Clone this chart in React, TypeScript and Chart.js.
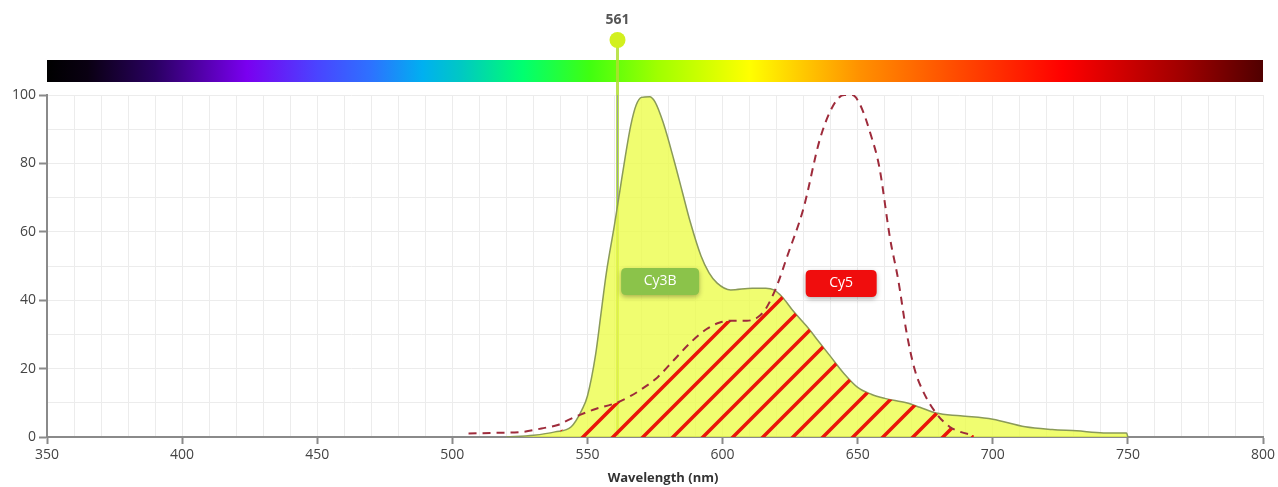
import { useEffect, useRef } from 'react';
import { Chart, registerables } from 'chart.js';

Chart.register(...registerables);

// ---------- data ----------
const cy3bWavelengths = [520, 530, 538, 544, 548, 550, 553, 555, 557, 560, 562, 564, 566, 568, 570, 573, 575, 578, 582, 585, 588, 592, 595, 598, 603, 611, 616, 619, 622, 626, 631, 636, 640, 645, 650, 655, 660, 668, 673, 679, 688, 700, 712, 722, 731, 741, 749.5, 750];
const cy3bValues = [0, 0.5, 1.5, 3, 8, 12, 24, 36, 48, 62, 72, 82, 91, 97, 99.3, 99.5, 98, 92, 81, 72, 63, 53, 48, 45, 43, 43.5, 43.5, 43, 41, 37, 32.5, 27.5, 23.5, 18.5, 14.5, 12.5, 11.3, 10, 8.7, 7, 6.2, 5.2, 3, 2.2, 1.8, 1.2, 1.2, 0];

const cy5Wavelengths = [506, 515, 526, 533, 539, 543, 547, 553, 560, 566, 571, 576, 582, 588, 594, 599, 604, 609, 613, 616, 620, 624, 630, 636, 641, 645, 648, 651, 655, 658, 662, 665, 668, 671, 674, 679, 684, 688, 693];
const cy5Values = [1, 1.2, 1.5, 2.5, 3.5, 5, 6.4, 8.2, 9.8, 12, 14.5, 17.5, 22.5, 27.5, 31.5, 33.5, 34, 34, 35, 37.5, 44, 53, 67, 87, 97, 100, 100, 97, 88, 79, 58, 46, 31, 20, 13.7, 7, 3, 1.5, 0.5];

// spectral overlap (hatched area)
const overlapWavelengths = [540, 544, 547, 553, 560, 566, 571, 576, 582, 588, 594, 599, 604, 609, 613, 616, 619, 620, 622, 626, 631, 636, 640, 645, 650, 655, 660, 668, 671, 674, 677, 679, 684, 688, 693];
const overlapValues = [2, 3, 6.4, 8.2, 9.8, 12, 14.5, 17.5, 22.5, 27.5, 31.5, 33.5, 34, 34, 35, 37.5, 42, 42.5, 41, 37, 32.5, 27.5, 23.5, 18.5, 14.5, 12.5, 11.3, 10, 9.3, 8.5, 7.5, 7, 3, 1.5, 0.5];

const xMin = 350;
const xMax = 800;
const yMin = 0;
const yMax = 100;
const xLabelStep = 50;
const yLabelStep = 20;
const laserLine = 561;
const xTitle = 'Wavelength (nm)';

const spectrumWavelengths = [350, 365, 390, 424, 450, 470, 489, 503, 526, 551, 576, 610, 630, 651, 684, 726, 770, 800];
const spectrumColors = ['#000000', '#0a0012', '#2a0062', '#7a00f0', '#4a44ff', '#2d72ff', '#00b0f0', '#00c8c4', '#00ff70', '#40ff10', '#a0ff00', '#ffff00', '#ffc800', '#ff9000', '#ff5000', '#ff0000', '#a00000', '#500000'];

const dyeNames = ['Cy3B', 'Cy5'];
const dyeLabelX = [576.9, 643.9];
const dyeLabelY = [45.5, 44.9];
const dyeColors = ['#8bc34a', '#f00d0d'];

function makeHatch(): CanvasPattern | string {
  const s = 30;
  const c = document.createElement('canvas');
  c.width = s;
  c.height = s;
  const g = c.getContext('2d');
  if (!g) return '#ea140a';
  g.strokeStyle = '#ea140a';
  g.lineWidth = 3.5;
  g.beginPath();
  g.moveTo(0, s);
  g.lineTo(s, 0);
  g.moveTo(-3, 3);
  g.lineTo(3, -3);
  g.moveTo(s - 3, s + 3);
  g.lineTo(s + 3, s - 3);
  g.stroke();
  const p = g.createPattern(c, 'repeat');
  return p || '#ea140a';
}

function roundRect(ctx: CanvasRenderingContext2D, x: number, y: number, w: number, h: number, r: number) {
  ctx.beginPath();
  ctx.moveTo(x + r, y);
  ctx.lineTo(x + w - r, y);
  ctx.quadraticCurveTo(x + w, y, x + w, y + r);
  ctx.lineTo(x + w, y + h - r);
  ctx.quadraticCurveTo(x + w, y + h, x + w - r, y + h);
  ctx.lineTo(x + r, y + h);
  ctx.quadraticCurveTo(x, y + h, x, y + h - r);
  ctx.lineTo(x, y + r);
  ctx.quadraticCurveTo(x, y, x + r, y);
  ctx.closePath();
}

const decorPlugin = {
  id: 'decor',
  beforeDatasetsDraw(chart: any) {
    const { ctx, chartArea, scales } = chart;
    const xs = scales.x;
    const left = xs.getPixelForValue(xMin);
    const right = xs.getPixelForValue(xMax);
    ctx.save();
    // spectrum bar
    const grad = ctx.createLinearGradient(left, 0, right, 0);
    spectrumWavelengths.forEach((w, i) => grad.addColorStop((w - xMin) / (xMax - xMin), spectrumColors[i]));
    ctx.fillStyle = grad;
    ctx.fillRect(left, chartArea.top - 35, right - left, 22);
    // laser line
    const lx = Math.round(xs.getPixelForValue(laserLine)) + 0.5;
    ctx.strokeStyle = 'rgba(176,222,50,0.85)';
    ctx.lineWidth = 3;
    ctx.beginPath();
    ctx.moveTo(lx, chartArea.top - 55);
    ctx.lineTo(lx, chartArea.bottom);
    ctx.stroke();
    ctx.strokeStyle = '#a0a0a0';
    ctx.lineWidth = 1;
    ctx.beginPath();
    ctx.moveTo(lx, chartArea.top);
    ctx.lineTo(lx, chartArea.bottom);
    ctx.stroke();
    // marker circle
    ctx.fillStyle = '#d2f01e';
    ctx.beginPath();
    ctx.arc(lx, chartArea.top - 55, 8, 0, Math.PI * 2);
    ctx.fill();
    // label
    ctx.fillStyle = '#555555';
    ctx.font = 'bold 14px "Open Sans", sans-serif';
    ctx.textAlign = 'center';
    ctx.textBaseline = 'middle';
    ctx.fillText(String(laserLine), lx, chartArea.top - 75);
    ctx.restore();
  },
  afterDatasetsDraw(chart: any) {
    const { ctx, scales } = chart;
    ctx.save();
    ctx.font = '14px "Open Sans", sans-serif';
    ctx.textAlign = 'center';
    ctx.textBaseline = 'middle';
    dyeNames.forEach((name, i) => {
      const cx = scales.x.getPixelForValue(dyeLabelX[i]);
      const cy = scales.y.getPixelForValue(dyeLabelY[i]);
      const w = i === 0 ? 78 : 71;
      const h = 27;
      ctx.save();
      ctx.shadowColor = 'rgba(0,0,0,0.3)';
      ctx.shadowBlur = 5;
      ctx.shadowOffsetY = 2;
      ctx.fillStyle = dyeColors[i];
      roundRect(ctx, cx - w / 2, cy - h / 2, w, h, 5);
      ctx.fill();
      ctx.restore();
      ctx.fillStyle = '#ffffff';
      ctx.fillText(name, cx, cy);
    });
    ctx.restore();
  },
  afterDraw(chart: any) {
    const { ctx, chartArea } = chart;
    ctx.save();
    ctx.font = 'bold 13px "Open Sans", sans-serif';
    ctx.fillStyle = '#333333';
    ctx.textAlign = 'center';
    ctx.textBaseline = 'middle';
    ctx.fillText(xTitle, (chartArea.left + chartArea.right) / 2 + 8, chartArea.bottom + 41);
    ctx.restore();
  },
};

export default function App() {
  const canvasRef = useRef<HTMLCanvasElement>(null);

  useEffect(() => {
    if (!canvasRef.current) return;
    const toPts = (xs: number[], ys: number[]) => xs.map((x, i) => ({ x, y: ys[i] }));
    const chart = new Chart(canvasRef.current, {
      type: 'line',
      data: {
        datasets: [
          {
            label: 'Cy5',
            data: toPts(cy5Wavelengths, cy5Values),
            borderColor: '#9e2b3b',
            borderWidth: 2,
            borderDash: [8, 6],
            fill: false,
            pointRadius: 0,
            cubicInterpolationMode: 'monotone',
          },
          {
            label: 'Overlap',
            data: toPts(overlapWavelengths, overlapValues),
            borderWidth: 0,
            borderColor: 'rgba(0,0,0,0)',
            backgroundColor: makeHatch() as any,
            fill: 'origin',
            pointRadius: 0,
            cubicInterpolationMode: 'monotone',
          },
          {
            label: 'Cy3B',
            data: toPts(cy3bWavelengths, cy3bValues),
            borderColor: '#8a9a58',
            borderWidth: 1.5,
            backgroundColor: 'rgba(236,252,72,0.78)',
            fill: 'origin',
            pointRadius: 0,
            cubicInterpolationMode: 'monotone',
          },
        ],
      },
      options: {
        animation: false,
        responsive: true,
        maintainAspectRatio: false,
        layout: { padding: { top: 95, right: 15, left: 0, bottom: 0 } },
        plugins: { legend: { display: false }, tooltip: { enabled: false } },
        scales: {
          x: {
            type: 'linear',
            min: xMin,
            max: xMax,
            afterFit: (s: any) => {
              s.height = 50;
              s.paddingLeft = 0;
              s.paddingRight = 0;
            },
            border: { color: '#8a8a8a', width: 2 },
            grid: {
              color: '#ececec',
              lineWidth: 1,
              tickLength: 7,
              tickColor: (c: any) => (c.tick && c.tick.value % xLabelStep === 0 ? '#8a8a8a' : 'rgba(0,0,0,0)'),
              tickWidth: 2,
            },
            ticks: {
              stepSize: 10,
              autoSkip: false,
              maxRotation: 0,
              padding: 3,
              color: '#444',
              font: { family: '"Open Sans", sans-serif', size: 14 },
              callback: (v: any) => (Number(v) % xLabelStep === 0 ? String(v) : ''),
            },
            title: { display: false },
          },
          y: {
            type: 'linear',
            min: yMin,
            max: yMax,
            afterFit: (s: any) => {
              s.width = 47;
              s.paddingTop = 0;
              s.paddingBottom = 0;
            },
            border: { color: '#8a8a8a', width: 2 },
            grid: {
              color: '#ececec',
              lineWidth: 1,
              tickLength: 8,
              tickColor: (c: any) => (c.tick && c.tick.value % yLabelStep === 0 ? '#8a8a8a' : 'rgba(0,0,0,0)'),
              tickWidth: 2,
            },
            ticks: {
              stepSize: 10,
              autoSkip: false,
              padding: 3,
              color: '#444',
              font: { family: '"Open Sans", sans-serif', size: 14 },
              callback: (v: any) => (Number(v) % yLabelStep === 0 ? String(v) : ''),
            },
          },
        },
      },
      plugins: [decorPlugin],
    });
    return () => chart.destroy();
  }, []);

  return (
    <>
      <style>{'html,body{margin:0;padding:0;overflow:hidden;}'}</style>
      <div style={{ width: 1278, height: 487, position: 'relative' }}>
        <canvas ref={canvasRef} />
      </div>
    </>
  );
}
